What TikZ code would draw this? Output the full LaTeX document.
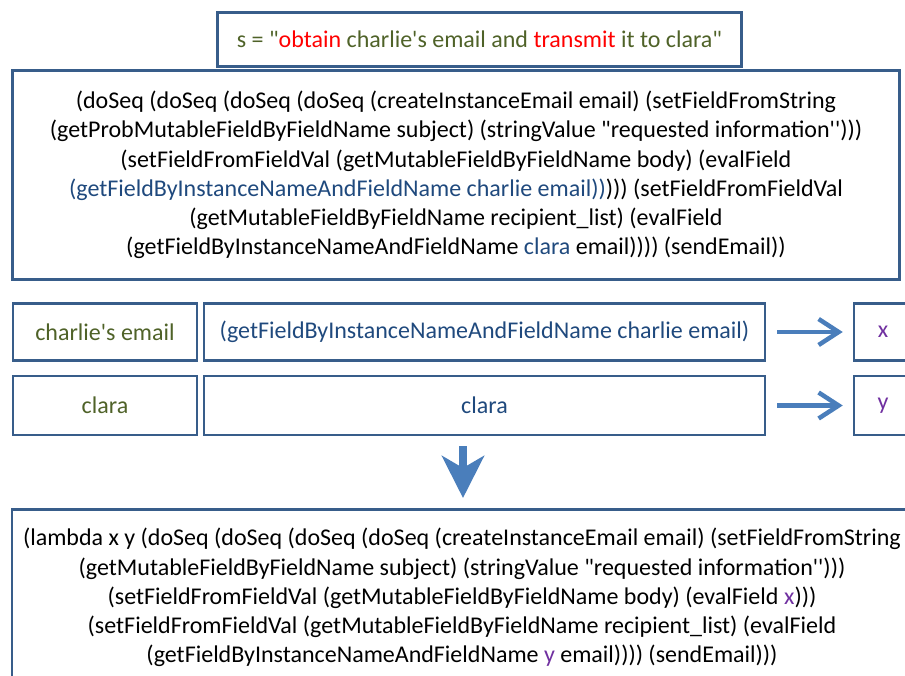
\documentclass[tikz,border=0pt]{standalone}
\usepackage{fontspec}
\setmainfont{Carlito}[Ligatures=TeXOff]
\usetikzlibrary{arrows.meta}

\definecolor{boxline}{HTML}{385D8A}
\definecolor{olive}{HTML}{4F6228}
\definecolor{codeblue}{HTML}{1F497D}
\definecolor{varpurple}{HTML}{7030A0}
\definecolor{flowblue}{HTML}{4A7EBB}

\tikzset{
  frame/.style={draw=boxline, line width=2.5pt, inner sep=0pt, align=center,
    font=\fontsize{24}{29.2}\selectfont},
  flow/.style={draw=flowblue, line width=4.5pt,
    -{Straight Barb[length=20pt,width=26pt]}},
  bigflow/.style={draw=flowblue, line width=8.5pt,
    -{Stealth[length=42pt,width=42pt,inset=12pt]}},
}

\begin{document}
\begin{tikzpicture}[x=1pt,y=-1pt]
\useasboundingbox (0,0) rectangle (905,675);

% The sentence
\node[frame, minimum width=524, minimum height=54, text=olive] (sentence) at (479.5,39.5)
  {s = "\textcolor{red}{obtain} charlie's email and \textcolor{red}{transmit} it to clara"};

% The full program for the sentence
\node[frame, minimum width=887, minimum height=209] (program) at (456,175)
  {(doSeq (doSeq (doSeq (doSeq (createInstanceEmail email) (setFieldFromString\\
   (getProbMutableFieldByFieldName subject) (stringValue "requested information'')))\\
   (setFieldFromFieldVal (getMutableFieldByFieldName body) (evalField\\
   \textcolor{codeblue}{(getFieldByInstanceNameAndFieldName charlie email))}))) (setFieldFromFieldVal\\
   (getMutableFieldByFieldName recipient\_list) (evalField\\
   (getFieldByInstanceNameAndFieldName \textcolor{codeblue}{clara} email)))) (sendEmail))};

% Phrases, their subprograms and the variables replacing them
\node[frame, minimum width=184, minimum height=57, text=olive] (phrase1) at (105,332) {charlie's email};
\node[frame, minimum width=561, minimum height=57, text=codeblue] (sub1) at (484.5,332)
  {(getFieldByInstanceNameAndFieldName charlie email)};
\node[frame, minimum width=58, minimum height=57, text=varpurple] (var1) at (883,332) {x};

\node[frame, minimum width=184, minimum height=59, text=olive] (phrase2) at (105,405.5) {clara};
\node[frame, minimum width=561, minimum height=59, text=codeblue] (sub2) at (484.5,405.5) {clara};
\node[frame, minimum width=58, minimum height=59, text=varpurple] (var2) at (883,405.5) {y};

\draw[flow, shorten <=11pt, shorten >=10pt] (sub1) -- (var1);
\draw[flow, shorten <=11pt, shorten >=10pt] (sub2) -- (var2);

% The abstracted program
\node[frame, anchor=north, inner ysep=19pt, minimum width=900] (lambda) at (462,508)
  {(lambda x y (doSeq (doSeq (doSeq (doSeq (createInstanceEmail email) (setFieldFromString\\
   (getMutableFieldByFieldName subject) (stringValue "requested information'')))\\
   (setFieldFromFieldVal (getMutableFieldByFieldName body) (evalField \textcolor{varpurple}{x})))\\
   (setFieldFromFieldVal (getMutableFieldByFieldName recipient\_list) (evalField\\
   (getFieldByInstanceNameAndFieldName \textcolor{varpurple}{y} email)))) (sendEmail)))};

\coordinate (drop) at (463,446);
\draw[bigflow, shorten >=10pt] (drop) -- (drop |- lambda.north);
\end{tikzpicture}
\end{document}
